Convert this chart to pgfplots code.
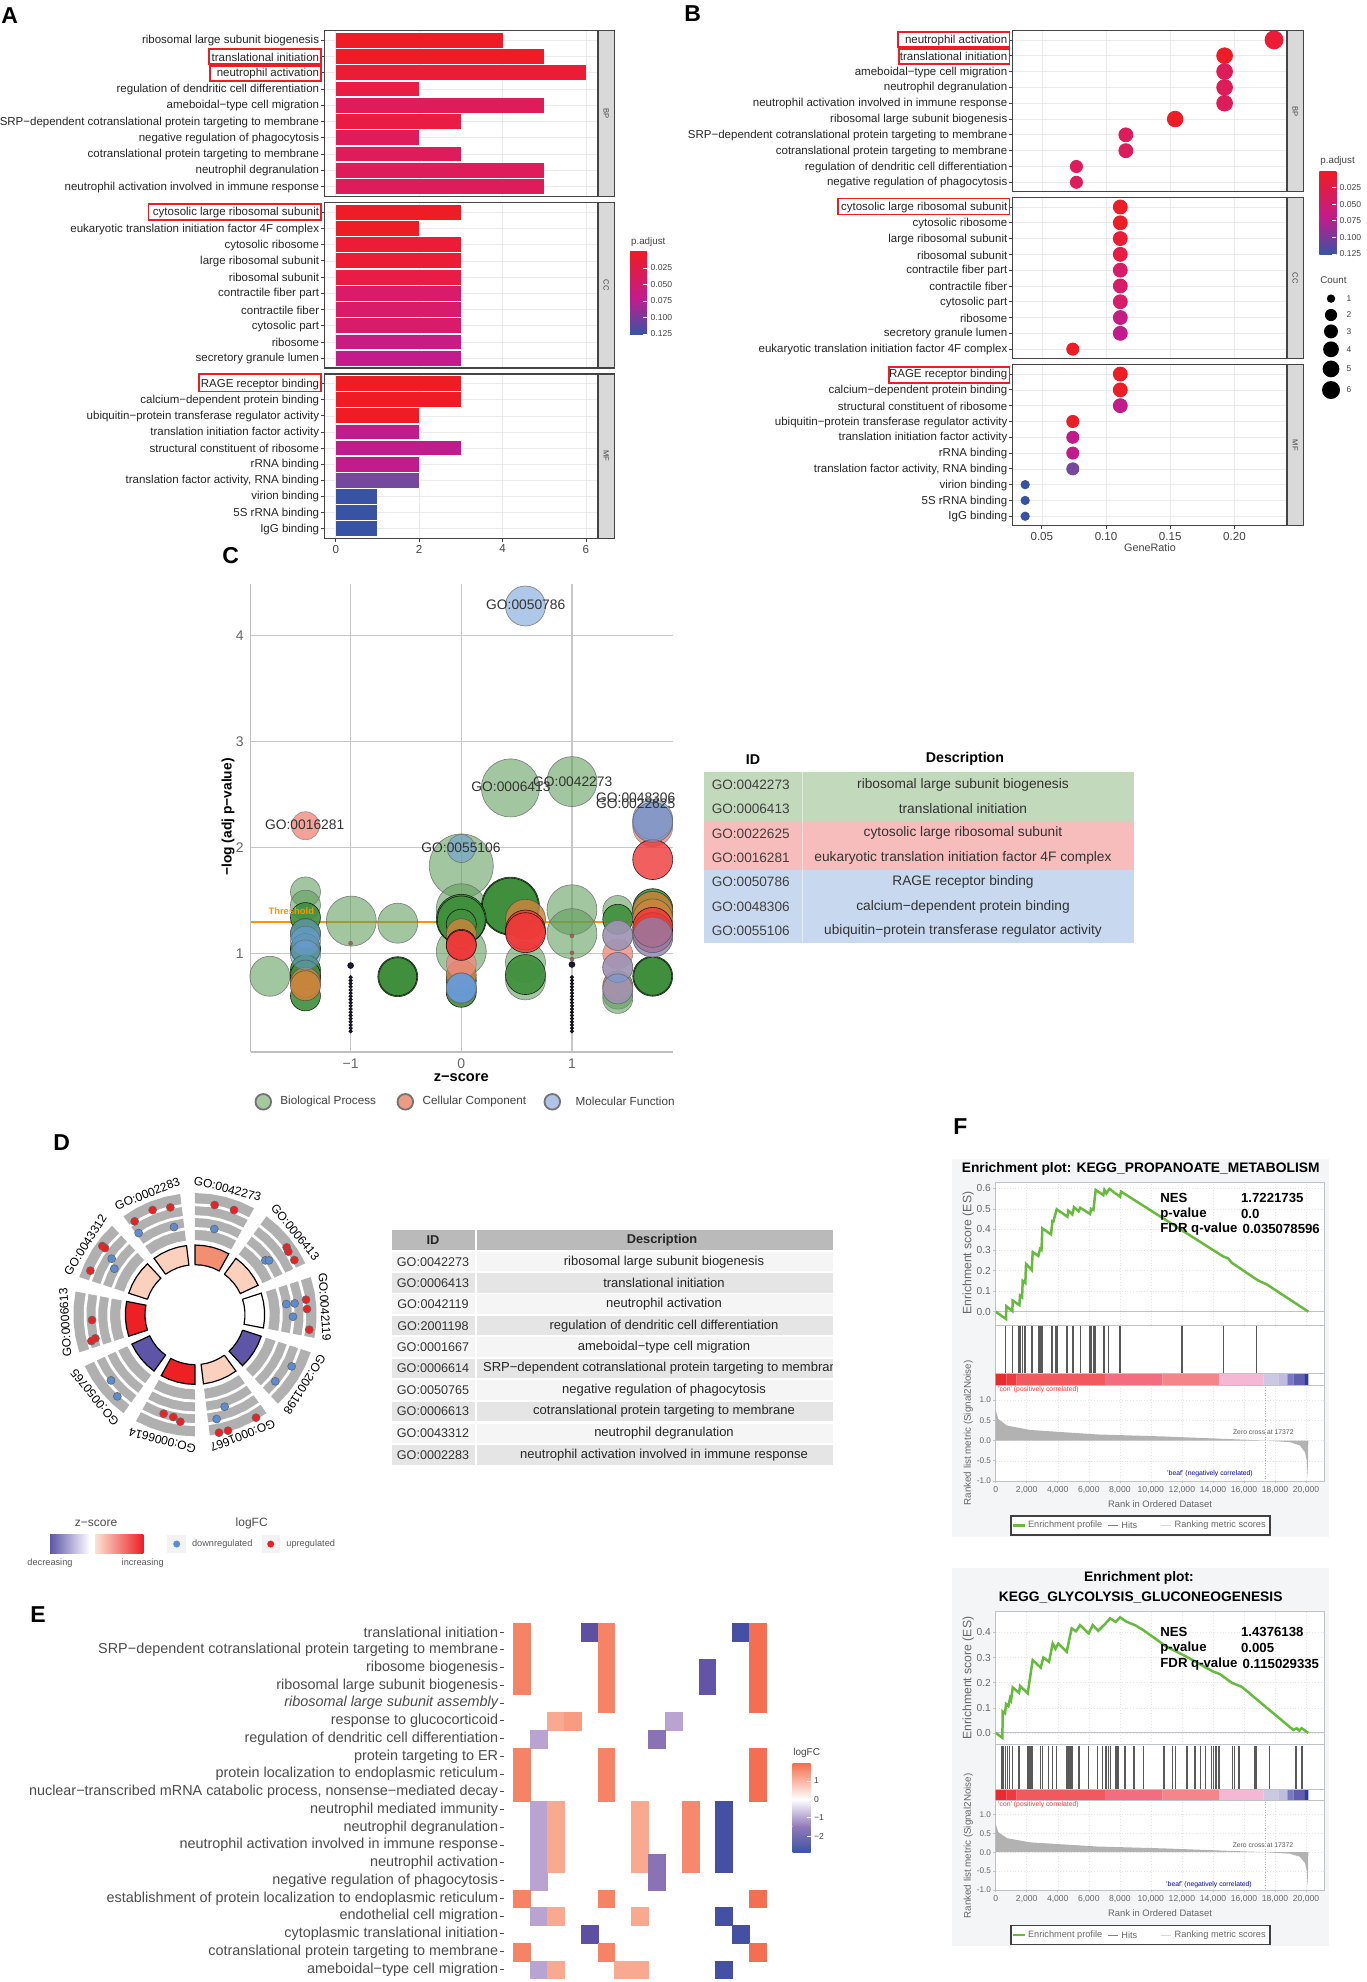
\documentclass[border=0pt]{standalone}
\usepackage{fontspec}
\setmainfont{Liberation Sans}
\usepackage{pgfplots}
\usepackage{pgfplotstable}
\pgfplotsset{compat=1.18}

% all positions below are pixels of the 1366x1982 reference, 1 px = 0.5pt
\newcommand\fs[1]{\fontsize{#1}{#1}\selectfont}
\newcommand\tx[4][]{\node[inner sep=0pt,#1] at ({(#2)*0.5pt},{-(#3)*0.5pt}) {#4};}
\newcommand\rb[4]{\draw[draw=boxred,line width=.8pt] ({#1*0.5pt},{-#2*0.5pt}) rectangle ({#3*0.5pt},{-#4*0.5pt});}
\newcommand\rc[5]{\fill[fill=#5] ({(#1)*0.5pt},{-(#2)*0.5pt}) rectangle ({(#3)*0.5pt},{-(#4)*0.5pt});}
\newcommand\strip[5]{\draw[fill=stripc,draw=c333,line width=.6pt] ({#1*0.5pt},{-#3*0.5pt}) rectangle ({#2*0.5pt},{-#4*0.5pt});
  \tx[rotate=-90,font=\fs{3.8},text=c333]{(#1+#2)/2}{(#3+#4)/2}{#5}}

\definecolor{c333}{HTML}{444444}
\definecolor{stripc}{HTML}{D9D9D9}
\definecolor{gridc}{HTML}{EBEBEB}
\definecolor{boxred}{HTML}{EE1C25}
\definecolor{pa}{HTML}{EE1C25}
\definecolor{pb}{HTML}{EC1C36}
\definecolor{pc}{HTML}{E81C45}
\definecolor{pd}{HTML}{DE1C5C}
\definecolor{pe}{HTML}{D91C6A}
\definecolor{pf}{HTML}{C71C84}
\definecolor{pg}{HTML}{C21C8C}
\definecolor{ph}{HTML}{75489E}
\definecolor{pi}{HTML}{3953A4}
\definecolor{gsgreen}{HTML}{66BB3C}
\definecolor{gsline}{HTML}{BFC3C7}
\definecolor{gsbg}{HTML}{F3F5F7}
\definecolor{gstxt}{HTML}{666666}
\definecolor{dred}{HTML}{ED2024}
\definecolor{dblue}{HTML}{5B8BD0}
\definecolor{dgray}{HTML}{B0B0B0}
\definecolor{dsalm}{HTML}{F28F70}
\definecolor{dpale}{HTML}{FBD0BC}
\definecolor{dpurp}{HTML}{5E55A6}
\definecolor{cgo}{HTML}{5F9E5A}
\definecolor{cgd}{HTML}{3F8F3C}
\definecolor{cbr}{HTML}{C9853A}
\definecolor{csa}{HTML}{F08A80}
\definecolor{cre}{HTML}{EE3838}
\definecolor{cbl}{HTML}{6A9BD8}
\definecolor{csm}{HTML}{1A1A3A}
\definecolor{ctin}{HTML}{8A5A4A}

\pgfplotsset{
  /pgf/number format/assume math mode=true,
  pan/.style n args={4}{scale only axis,anchor=north west,
    at={({#1*0.5pt},{-#2*0.5pt})},width={(#3-#1)*0.5pt},height={(#4-#2)*0.5pt}},
  facet/.style={grid=major,grid style={draw=gridc,line width=.35pt},
    axis line style={draw=c333,line width=.6pt},y dir=reverse,ymin=.4,ymax=10.6,
    ytick={1,...,10},tick style={draw=c333,line width=.4pt},major tick length=1.7pt,
    tick align=outside,xtick pos=left,ytick pos=left,
    yticklabel style={font=\fs{5.75},text=black!85,inner sep=.8pt,yshift=-.3pt},
    xticklabel style={font=\fs{5.8},text=c333,inner sep=1.5pt}},
  nox/.style={xticklabels={},xtick style={draw=none}},
  cbar/.style={hide x axis,axis y line=right,axis line style={draw=none},xmin=0,xmax=1,
    tick style={draw=white,line width=.4pt},major tick length=2pt,tick align=inside,axis on top,
    yticklabel style={font=\fs{4.3},text=c333,inner sep=1.5pt}},
  bub/.style n args={3}{scatter,only marks,mark=*,point meta=\thisrow{r},
    visualization depends on={\thisrow{r}\as\rr},
    scatter/@pre marker code/.code={\scope[mark size={\rr*0.5},draw=#3,fill=#1,fill opacity=#2,draw opacity=.8,line width=.3pt]},
    scatter/@post marker code/.code={\endscope}},
  gs/.style={xmin=0,xmax=21160,axis line style={draw=gsline,line width=.5pt},
    axis background/.style={fill=white},xtick={0,2000,...,20000},grid=major,
    grid style={densely dotted,draw=black!10,line width=.25pt},
    tick style={draw=gsline,line width=.3pt},major tick length=1.2pt,tick align=outside,
    xticklabels={},scaled ticks=false,xtick pos=left,ytick pos=left},
  colormap={logfc}{rgb255(0pt)=(59,80,164); rgb255(8pt)=(94,79,162); rgb255(16pt)=(143,120,184);
    rgb255(20pt)=(185,163,208); rgb255(30pt)=(255,255,255); rgb255(40pt)=(248,169,143);
    rgb255(50pt)=(244,105,75)},
}

% panel A bar, panel B dot
\newcommand\hb[3]{\addplot[xbar,bar shift=0pt,bar width=7.4pt,draw=none,fill=#3] coordinates {(#1,#2)};}
\newcommand\dotb[4]{\addplot[only marks,mark=*,mark size=#3pt,color=#4,mark options={draw=none}] coordinates {(#1,#2)};}

% panel C
\pgfplotstableread[row sep=\\]{z y r\\
.444 2.564 29\\ 1 2.624 25\\ 0 1.829 32\\ 0 1.426 25\\ -.994 1.309 25\\ -.574 1.289 20\\ -1.73 .789 20\\
1 1.416 25\\ 1 1.191 25\\ 0 1.023 25\\ -1.408 1.584 15\\ -1.408 1.46 15\\ -1.408 1.04 15\\ 1.414 1.409 15\\
.58 .92 20\\ .58 .755 20\\ 1.414 .62 15\\ 1.414 .58 15\\}\tabGo
\pgfplotstableread[row sep=\\]{z y r\\
.444 1.45 29\\ .444 1.45 28\\ 0 1.326 25\\ 0 1.32 24\\ -.574 .785 20\\ -.574 .785 19\\ .58 .805 20\\ 1.73 .789 20\\ 1.73 .789 19\\
1.73 1.426 20\\ 1.73 1.40 20\\ 1.414 1.326 15\\ -1.408 .772 15\\ -1.408 .604 15\\ -1.408 1.342 15\\ -1.408 1.19 15\\ -1.408 1.05 15\\
-1.408 .85 15\\ -1.408 .80 15\\ 0 .638 15\\ 0 1.28 15\\ 0 .75 15\\}\tabGd
\pgfplotstableread[row sep=\\]{z y r\\
-1.408 .732 15\\ -1.408 .70 15\\ 0 1.19 15\\ 0 .80 15\\ .58 1.326 20\\ 1.73 1.40 20\\ 1.73 1.33 20\\ 1.414 .70 15\\}\tabBr
\pgfplotstableread[row sep=\\]{z y r\\
-1.408 2.208 14\\ 0 .906 15\\ 1.414 1.0 15\\ 1.414 1.174 15\\ 1.414 .872 15\\ 1.414 .67 15\\ 1.73 2.2 20\\ 1.73 2.24 20\\ 1.73 1.158 20\\}\tabSa
\pgfplotstableread[row sep=\\]{z y r\\
1.73 1.889 20\\ .58 1.225 20\\ .58 1.20 20\\ 0 1.09 15\\ 0 1.08 15\\ 1.73 1.2 20\\ 1.73 1.25 20\\}\tabRe
\pgfplotstableread[row sep=\\]{z y r\\
.58 4.279 20\\ 1.73 2.265 20\\ 0 1.993 14\\ -1.408 1.19 15\\ -1.408 1.12 15\\ -1.408 .99 15\\
1.414 1.174 15\\ 1.414 .872 15\\ 1.414 .67 15\\ 1.73 1.158 20\\ 1.73 2.24 20\\ 0 .678 15\\ 0 .678 15\\ 0 .678 15\\ 0 .678 15\\}\tabBl
\pgfplotstableread[row sep=\\]{z y r\\
-1 .89 3\\ -1 .78 1.8\\ -1 .75 1.8\\ -1 .72 1.8\\ -1 .69 1.8\\ -1 .66 1.8\\ -1 .63 1.8\\ -1 .60 1.8\\ -1 .57 1.8\\ -1 .54 1.8\\
-1 .51 1.8\\ -1 .48 1.8\\ -1 .45 1.8\\ -1 .42 1.8\\ -1 .39 1.8\\ -1 .36 1.8\\ -1 .33 1.8\\ -1 .30 1.8\\ -1 .27 1.8\\
1 .90 3\\ 1 .78 1.8\\ 1 .75 1.8\\ 1 .72 1.8\\ 1 .69 1.8\\ 1 .66 1.8\\ 1 .63 1.8\\ 1 .60 1.8\\ 1 .57 1.8\\ 1 .54 1.8\\
1 .51 1.8\\ 1 .48 1.8\\ 1 .45 1.8\\ 1 .42 1.8\\ 1 .39 1.8\\ 1 .36 1.8\\ 1 .33 1.8\\ 1 .30 1.8\\ 1 .27 1.8\\}\tabSm
\pgfplotstableread[row sep=\\]{z y r\\
-1 1.1 2\\ 1 1.17 2\\ 1 .95 2\\ 1 1.01 2\\}\tabTi

% panel D
\newcommand\sect[5]{\addplot[data cs=polar,fill=#4,draw=#5,line width=.6pt] coordinates {
  (#1,#2)(#1-7.25,#2)(#1-14.5,#2)(#1-21.75,#2)(#1-29,#2)
  (#1-29,#3)(#1-21.75,#3)(#1-14.5,#3)(#1-7.25,#3)(#1,#3)(#1,#2)};}
\newcommand\arcw[2]{\addplot[data cs=polar,draw=white,line width=1.4pt] coordinates {
  (#1+.5,#2)(#1-7.25,#2)(#1-14.5,#2)(#1-21.75,#2)(#1-29.5,#2)};}
\newcommand\glab[2]{\node[rotate=#1-90,font=\fs{6},inner sep=0pt] at (axis cs:{390*cos(#1)},{390*sin(#1)}) {#2};}

% panel E: column, row (from the top), logFC
\pgfplotstableread[row sep=\\]{c r v\\
0 0 1.6\\ 4 0 -2.2\\ 5 0 1.6\\ 13 0 -2.8\\ 14 0 1.9\\
0 1 1.6\\ 5 1 1.6\\ 14 1 1.9\\
0 2 1.6\\ 5 2 1.6\\ 11 2 -2.1\\ 14 2 1.9\\
0 3 1.6\\ 5 3 1.6\\ 11 3 -2.1\\ 14 3 1.9\\
5 4 1.6\\ 14 4 1.9\\
2 5 1.0\\ 3 5 1.2\\ 9 5 -1.0\\
1 6 -1.0\\ 8 6 -1.5\\
0 7 1.6\\ 5 7 1.6\\ 14 7 1.9\\
0 8 1.6\\ 5 8 1.6\\ 14 8 1.9\\
0 9 1.6\\ 5 9 1.6\\ 14 9 1.9\\
1 10 -1.0\\ 2 10 1.0\\ 7 10 1.0\\ 10 10 1.5\\ 12 10 -2.8\\
1 11 -1.0\\ 2 11 1.0\\ 7 11 1.0\\ 10 11 1.5\\ 12 11 -2.8\\
1 12 -1.0\\ 2 12 1.0\\ 7 12 1.0\\ 10 12 1.5\\ 12 12 -2.8\\
1 13 -1.0\\ 2 13 1.0\\ 7 13 1.0\\ 8 13 -1.5\\ 10 13 1.5\\ 12 13 -2.8\\
1 14 -1.0\\ 8 14 -1.5\\
0 15 1.6\\ 5 15 1.6\\ 14 15 1.9\\
1 16 -1.0\\ 2 16 1.0\\ 7 16 1.0\\ 12 16 -2.8\\
4 17 -2.2\\ 13 17 -2.8\\
0 18 1.6\\ 5 18 1.6\\ 14 18 1.9\\
1 19 -1.0\\ 2 19 1.0\\ 6 19 1.0\\ 7 19 1.0\\ 12 19 -2.8\\}\tabE

% panel F
\pgfplotstableread[row sep=\\]{k m\\
0 0\\ 0 .75\\ 170 .53\\ 720 .37\\ 2220 .26\\ 6520 .15\\ 10820 .10\\ 17372 0\\ 18960 -.04\\ 19600 -.12\\
19940 -.29\\ 20050 -.5\\ 20110 -.9\\ 20148 0\\ 0 0\\}\tabM
\pgfplotstableread[row sep=\\]{k es\\
0 0\\ 666 -.036\\ 690 .026\\ 1074 .003\\ 1095 .054\\ 1525 .032\\ 1568 .078\\ 1700 .07\\ 1740 .15\\ 1910 .14\\
1955 .232\\ 2320 .203\\ 2384 .29\\ 2750 .271\\ 2857 .305\\ 2950 .30\\ 3007 .405\\ 3566 .376\\ 3650 .44\\ 3716 .438\\
3931 .498\\ 4618 .462\\ 4683 .491\\ 4940 .473\\ 5048 .508\\ 5350 .488\\ 5450 .505\\ 6079 .475\\ 6150 .50\\ 6300 .495\\
6444 .592\\ 6938 .567\\ 7003 .592\\ 7130 .575\\ 7325 .597\\ 8012 .559\\ 8076 .584\\ 14671 .268\\ 14993 .259\\
15208 .238\\ 16926 .151\\ 17463 .133\\ 20148 0\\}\tabEsA
\pgfplotstableread[row sep=\\]{k es\\
0 0\\ 430 -.019\\ 451 .085\\ 601 .078\\ 666 .115\\ 816 .107\\ 924 .138\\ 990 .13\\ 1095 .181\\ 1504 .16\\ 1568 .187\\
2062 .158\\ 2384 .29\\ 2900 .26\\ 3072 .30\\ 3437 .283\\ 3673 .356\\ 3850 .335\\ 4038 .356\\ 4575 .323\\ 4897 .416\\
5177 .405\\ 5434 .429\\ 5993 .396\\ 6251 .429\\ 6616 .407\\ 7088 .436\\ 7368 .456\\ 7733 .442\\ 8012 .46\\ 8442 .442\\
8979 .429\\ 9408 .413\\ 9516 .409\\ 11019 .343\\ 12308 .303\\ 14027 .244\\ 14456 .234\\ 15208 .2\\ 15852 .184\\
19182 .012\\ 19396 .019\\ 19568 .009\\ 19718 .019\\ 20148 0\\}\tabEsB
\newcommand\seg[3]{\addplot[fill=#3,draw=none] coordinates {(#1,-.245)(#2,-.245)(#2,0)(#1,0)(#1,-.245)};}
\definecolor{r1}{HTML}{E92A2E}\definecolor{r2}{HTML}{EE3A3E}\definecolor{r3}{HTML}{F05A5E}
\definecolor{r4}{HTML}{F26D80}\definecolor{r5}{HTML}{F4858A}\definecolor{r6}{HTML}{F4B8D4}
\definecolor{b1}{HTML}{CCC8E4}\definecolor{b2}{HTML}{C0BCE0}\definecolor{b3}{HTML}{7A78C0}
\definecolor{b4}{HTML}{5F5FB0}\definecolor{b5}{HTML}{2E3AA0}
\newcommand\ramp{%
  \seg{0}{700}{r1}\seg{700}{1353}{r2}\seg{1353}{7045}{r3}\seg{7045}{10740}{r4}
  \seg{10740}{14413}{r5}\seg{14413}{17248}{r6}\seg{17248}{18215}{b1}\seg{18215}{18795}{b2}
  \seg{18795}{19182}{b3}\seg{19182}{19933}{b4}\seg{19933}{20148}{b5}}
\newcommand\gsfoot[4]{% y of the legend box, its bottom, y of ticks text, y of axis title
  \tx[font=\fs{4.7},text=gstxt]{1160}{#4}{Rank in Ordered Dataset}
  \draw[draw=black!75,line width=.6pt,fill=white] ({1011*0.5pt},{-#1*0.5pt}) rectangle ({1270*0.5pt},{-#2*0.5pt});
  \draw[gsgreen,line width=1.2pt] ({1013.3*0.5pt},{-(#1+#2)/2*0.5pt}) -- ({1025*0.5pt},{-(#1+#2)/2*0.5pt});
  \draw[gray,line width=.5pt] ({1108.3*0.5pt},{-(#1+#2)/2*0.5pt}) -- ({1118.3*0.5pt},{-(#1+#2)/2*0.5pt});
  \draw[black!15,line width=.5pt] ({1160.7*0.5pt},{-(#1+#2)/2*0.5pt}) -- ({1170.7*0.5pt},{-(#1+#2)/2*0.5pt});
  \tx[anchor=west,font=\fs{4.6},text=gstxt]{1027.7}{(#1+#2)/2}{Enrichment profile}
  \tx[anchor=west,font=\fs{4.6},text=gstxt]{1121}{(#1+#2)/2}{Hits}
  \tx[anchor=west,font=\fs{4.6},text=gstxt]{1174.3}{(#1+#2)/2}{Ranking metric scores}}
\newcommand\gsstat[6]{% y1 y2 y3 and the three values
  \tx[anchor=west,font=\bfseries\fs{6.6}]{1160}{#1}{NES}
  \tx[anchor=west,font=\bfseries\fs{6.6}]{1160}{#2}{p-value}
  \tx[anchor=west,font=\bfseries\fs{6.6}]{1160}{#3}{FDR q-value}
  \tx[anchor=west,font=\bfseries\fs{6.6}]{1240.7}{#1}{#4}
  \tx[anchor=west,font=\bfseries\fs{6.6}]{1240.7}{#2}{#5}
  \tx[anchor=west,font=\bfseries\fs{6.6}]{1242.3}{#3}{#6}}

\begin{document}
\begin{tikzpicture}
\path[use as bounding box,fill=white] (0,0) rectangle (683pt,-991pt);

% ---- A ----
\begin{axis}[pan={324.5}{30.4}{598}{196.4},facet,nox,xmin=-.27,xmax=6.29,xtick={0,2,4,6},
  yticklabels={ribosomal large subunit biogenesis,translational initiation,neutrophil activation,regulation of dendritic cell differentiation,ameboidal−type cell migration,SRP−dependent cotranslational protein targeting to membrane,negative regulation of phagocytosis,cotranslational protein targeting to membrane,neutrophil degranulation,neutrophil activation involved in immune response}]
\hb{4}{1}{pa}\hb{5}{2}{pa}\hb{6}{3}{pb}\hb{2}{4}{pc}\hb{5}{5}{pd}\hb{3}{6}{pc}\hb{2}{7}{pd}\hb{3}{8}{pd}\hb{5}{9}{pd}\hb{5}{10}{pd}
\end{axis}
\begin{axis}[pan={324.5}{202.5}{598}{367.9},facet,nox,xmin=-.27,xmax=6.29,xtick={0,2,4,6},
  yticklabels={cytosolic large ribosomal subunit,eukaryotic translation initiation factor 4F complex,cytosolic ribosome,large ribosomal subunit,ribosomal subunit,contractile fiber part,contractile fiber,cytosolic part,ribosome,secretory granule lumen}]
\hb{3}{1}{pa}\hb{2}{2}{pa}\hb{3}{3}{pb}\hb{3}{4}{pb}\hb{3}{5}{pc}\hb{3}{6}{pe}\hb{3}{7}{pe}\hb{3}{8}{pe}\hb{3}{9}{pf}\hb{3}{10}{pg}
\end{axis}
\begin{axis}[pan={324.5}{374}{598}{538.2},facet,xmin=-.27,xmax=6.29,xtick={0,2,4,6},xticklabels={0,2,4,6},
  yticklabels={RAGE receptor binding,calcium−dependent protein binding,ubiquitin−protein transferase regulator activity,translation initiation factor activity,structural constituent of ribosome,rRNA binding,{translation factor activity, RNA binding},virion binding,5S rRNA binding,IgG binding}]
\hb{3}{1}{pa}\hb{3}{2}{pa}\hb{2}{3}{pa}\hb{2}{4}{pg}\hb{3}{5}{pg}\hb{2}{6}{pg}\hb{2}{7}{ph}\hb{1}{8}{pi}\hb{1}{9}{pi}\hb{1}{10}{pi}
\end{axis}
\strip{598}{614.5}{30.4}{196.4}{BP}
\strip{598}{614.5}{202.5}{367.9}{CC}
\strip{598}{614.5}{374}{538.2}{MF}
\rb{209}{49}{321}{64}\rb{210}{66}{321}{81}\rb{148.5}{204}{321}{220}\rb{199}{374}{321}{391.4}
\tx[anchor=west,font=\fs{4.9},text=c333]{630.7}{241.8}{p.adjust}
\begin{axis}[pan={630.2}{251.8}{647.2}{334.3},cbar,y dir=reverse,ymin=.0006,ymax=.1255,
  ytick={.025,.05,.075,.1,.125},yticklabels={0.025,0.050,0.075,0.100,0.125}]
\shade[top color=pa,bottom color=pg] (axis cs:0,.0006) rectangle (axis cs:1,.07);
\shade[top color=pg,bottom color=pi] (axis cs:0,.07) rectangle (axis cs:1,.1255);
\end{axis}

% ---- B ----
\begin{axis}[pan={1012.7}{30.4}{1287}{191.8},facet,nox,xmin=.0273,xmax=.2409,xtick={.05,.1,.15,.2},
  yticklabels={neutrophil activation,translational initiation,ameboidal−type cell migration,neutrophil degranulation,neutrophil activation involved in immune response,ribosomal large subunit biogenesis,SRP−dependent cotranslational protein targeting to membrane,cotranslational protein targeting to membrane,regulation of dendritic cell differentiation,negative regulation of phagocytosis}]
\dotb{.2308}{1}{4.5}{pb}\dotb{.1923}{2}{3.95}{pa}\dotb{.1923}{3}{3.95}{pd}\dotb{.1923}{4}{3.95}{pd}\dotb{.1923}{5}{3.95}{pd}
\dotb{.1538}{6}{3.9}{pa}\dotb{.1154}{7}{3.5}{pd}\dotb{.1154}{8}{3.5}{pd}\dotb{.0769}{9}{3.05}{pd}\dotb{.0769}{10}{3.05}{pd}
\end{axis}
\begin{axis}[pan={1012.7}{197.5}{1287}{358.6},facet,nox,xmin=.0273,xmax=.2409,xtick={.05,.1,.15,.2},
  yticklabels={cytosolic large ribosomal subunit,cytosolic ribosome,large ribosomal subunit,ribosomal subunit,contractile fiber part,contractile fiber,cytosolic part,ribosome,secretory granule lumen,eukaryotic translation initiation factor 4F complex}]
\dotb{.1111}{1}{3.5}{pa}\dotb{.1111}{2}{3.5}{pa}\dotb{.1111}{3}{3.5}{pb}\dotb{.1111}{4}{3.5}{pc}\dotb{.1111}{5}{3.5}{pe}
\dotb{.1111}{6}{3.5}{pe}\dotb{.1111}{7}{3.5}{pe}\dotb{.1111}{8}{3.5}{pf}\dotb{.1111}{9}{3.5}{pg}\dotb{.0741}{10}{3.05}{pa}
\end{axis}
\begin{axis}[pan={1012.7}{364.6}{1287}{525.7},facet,xmin=.0273,xmax=.2409,xtick={.05,.1,.15,.2},xticklabels={0.05,0.10,0.15,0.20},
  yticklabels={RAGE receptor binding,calcium−dependent protein binding,structural constituent of ribosome,ubiquitin−protein transferase regulator activity,translation initiation factor activity,rRNA binding,{translation factor activity, RNA binding},virion binding,5S rRNA binding,IgG binding}]
\dotb{.1111}{1}{3.5}{pa}\dotb{.1111}{2}{3.5}{pa}\dotb{.1111}{3}{3.5}{pg}\dotb{.0741}{4}{3.05}{pa}\dotb{.0741}{5}{3.05}{pg}
\dotb{.0741}{6}{3.05}{pg}\dotb{.0741}{7}{3.05}{ph}\dotb{.037}{8}{2.1}{pi}\dotb{.037}{9}{2.1}{pi}\dotb{.037}{10}{2.1}{pi}
\end{axis}
\strip{1287}{1303.6}{30.4}{191.8}{BP}
\strip{1287}{1303.6}{197.5}{358.6}{CC}
\strip{1287}{1303.6}{364.6}{525.7}{MF}
\rb{898}{32}{1009.5}{47}\rb{899}{49}{1009.5}{64}\rb{838}{198.5}{1009.5}{214.5}\rb{889}{367}{1009.5}{383}
\tx[font=\fs{5.4},text=c333]{1150}{548}{GeneRatio}
\tx[anchor=west,font=\fs{4.9},text=c333]{1320}{161.4}{p.adjust}
\begin{axis}[pan={1319.3}{171.4}{1336.3}{254.3},cbar,y dir=reverse,ymin=.0006,ymax=.1255,
  ytick={.025,.05,.075,.1,.125},yticklabels={0.025,0.050,0.075,0.100,0.125}]
\shade[top color=pa,bottom color=pg] (axis cs:0,.0006) rectangle (axis cs:1,.07);
\shade[top color=pg,bottom color=pi] (axis cs:0,.07) rectangle (axis cs:1,.1255);
\end{axis}
\tx[anchor=west,font=\fs{4.9},text=c333]{1320}{280}{Count}
\foreach \yy/\sz/\cc in {298.6/2.1/1,315/3.05/2,331.4/3.5/3,349.3/3.95/4,368.9/4.2/5,390/4.5/6}{
  \fill[black] ({1331*0.5pt},{-\yy*0.5pt}) circle (\sz pt);
  \tx[font=\fs{4.2},text=c333]{1349}{\yy}{\cc}
}

% ---- C ----
\begin{axis}[pan={250.7}{583.6}{673.3}{1052},xmin=-1.903,xmax=1.916,ymin=.075,ymax=4.49,
  axis x line*=bottom,axis y line*=left,axis line style={draw=black!25,line width=.6pt,-},
  xtick={-1,0,1},xticklabels={−1,0,1},ytick={1,2,3,4},yticklabels={1,2,3,4},
  grid=major,grid style={draw=black!22,line width=.6pt},tick style={draw=none},
  ticklabel style={font=\fs{7},text=black!60},clip=true]
\addplot[bub={cgo}{.58}{black!60}] table[x=z,y=y] {\tabGo};
\addplot[bub={cgd}{.9}{black}] table[x=z,y=y] {\tabGd};
\addplot[bub={cbr}{.85}{black!70}] table[x=z,y=y] {\tabBr};
\addplot[bub={csa}{.8}{black!50}] table[x=z,y=y] {\tabSa};
\addplot[bub={cre}{.8}{black}] table[x=z,y=y] {\tabRe};
\addplot[bub={cbl}{.55}{black!60}] table[x=z,y=y] {\tabBl};
\addplot[bub={csm}{1}{black}] table[x=z,y=y] {\tabSm};
\addplot[bub={ctin}{.8}{ctin}] table[x=z,y=y] {\tabTi};
\addplot[no marks,draw=orange!85!yellow,line width=.7pt] coordinates {(-1.903,1.3)(1.916,1.3)};
\end{axis}
\tx[font=\bfseries\fs{4.7},text=orange!85!yellow]{291.3}{911}{Threshold}
\tx[font=\fs{6.9},text=black!80]{525.7}{604.3}{GO:0050786}
\tx[font=\fs{6.9},text=black!80]{511}{787}{GO:0006413}
\tx[font=\fs{6.9},text=black!80]{572.7}{781.5}{GO:0042273}
\tx[font=\fs{6.9},text=black!80]{635.7}{797.5}{GO:0048306}
\tx[font=\fs{6.9},text=black!80]{635.7}{803.5}{GO:0022625}
\tx[font=\fs{6.9},text=black!80]{304.7}{825}{GO:0016281}
\tx[font=\fs{6.9},text=black!80]{461}{847.9}{GO:0055106}
\tx[font=\bfseries\fs{7.3}]{461.3}{1077.9}{z−score}
\tx[rotate=90,font=\bfseries\fs{6.9}]{228}{817}{−log (adj p−value)}
\definecolor{lc1}{HTML}{A5C99F}\definecolor{lc2}{HTML}{EF9A85}\definecolor{lc3}{HTML}{B0C4E8}
\foreach \xx/\ff/\tt/\lx in {263.3/lc1/Biological Process/280,405.3/lc2/Cellular Component/422.3,552.3/lc3/Molecular Function/575.3}{
  \draw[fill=\ff,draw=black!55,line width=.9pt] ({\xx*0.5pt},{-1101.8*0.5pt}) circle (3.9pt);
  \tx[anchor=west,font=\fs{5.85},text=black!75]{\lx}{1101.8}{\tt}
}
% table next to C
\definecolor{tg}{HTML}{C3D9BC}\definecolor{tr}{HTML}{F7BCBC}\definecolor{tb}{HTML}{C8D8EE}
\rc{704}{772.3}{1134}{821.2}{tg}\rc{704}{821.2}{1134}{870}{tr}\rc{704}{870}{1134}{943.3}{tb}
\draw[white,line width=.3pt,opacity=.5] ({802.7*0.5pt},{-772.3*0.5pt}) -- ({802.7*0.5pt},{-943.3*0.5pt});
\tx[font=\bfseries\fs{7.1}]{753}{759.3}{ID}
\tx[font=\bfseries\fs{7.1}]{965}{759.3}{Description}
\foreach \yy/\ii/\dd in {784.5/GO:0042273/ribosomal large subunit biogenesis,808.9/GO:0006413/translational initiation,
  833.4/GO:0022625/cytosolic large ribosomal subunit,857.8/GO:0016281/eukaryotic translation initiation factor 4F complex,
  882.2/GO:0050786/RAGE receptor binding,906.7/GO:0048306/calcium−dependent protein binding,931.1/GO:0055106/ubiquitin−protein transferase regulator activity}{
  \tx[font=\fs{6.8},text=black!75]{750.7}{\yy}{\ii}
  \tx[font=\fs{6.87},text=black!80]{963}{\yy}{\dd}
}

% ---- D ----
\begin{axis}[pan={55}{1174.7}{335}{1454.7},hide axis,clip=false,xmin=-420,xmax=420,ymin=-420,ymax=420]
\pgfplotsinvokeforeach{90,54,18,-18,-54,-90,-126,-162,-198,-234}{
  \sect{#1}{224}{365}{dgray}{none}
  \arcw{#1}{259}\arcw{#1}{294.5}\arcw{#1}{330}
}
\sect{90}{150}{209}{dsalm}{black}\sect{54}{150}{209}{dpale}{black}\sect{18}{150}{209}{white}{black}
\sect{-18}{150}{209}{dpurp}{black}\sect{-54}{150}{209}{dpale}{black}\sect{-90}{150}{209}{dred}{black}
\sect{-126}{150}{209}{dpurp}{black}\sect{-162}{150}{209}{dred}{black}\sect{-198}{150}{209}{dpale}{black}
\sect{-234}{150}{209}{dpale}{black}
\addplot[only marks,mark=*,mark size=2pt,mark options={fill=dblue,draw=black!60,line width=.3pt}] coordinates {
  (58,257)(211,163)(222,163)(274,32)(299,34)(294,-6)(290,-155)(241,-200)(89,-276)(65,-313)
  (-233,-245)(-252,-197)(-242,138)(-250,168)(-169,245)(-63,263)};
\addplot[only marks,mark=*,mark size=2pt,mark options={fill=dred,draw=black!60,line width=.3pt}] coordinates {
  (59,329)(117,314)(275,202)(280,189)(298,164)(333,45)(336,17)(343,-45)(183,-309)(99,-348)(72,-354)
  (-44,-321)(-65,-307)(-94,-297)(-309,-16)(-299,-71)(-311,-79)(-314,132)(-278,206)(-270,200)(-181,280)(-127,314)(-74,322)};
\glab{75.5}{GO:0042273}\glab{39.5}{GO:0006413}\glab{3.5}{GO:0042119}\glab{-32.5}{GO:2001198}\glab{-68.5}{GO:0001667}
\glab{-104.5}{GO:0006614}\glab{-140.5}{GO:0050765}\glab{-176.5}{GO:0006613}\glab{-212.5}{GO:0043312}\glab{-248.5}{GO:0002283}
\end{axis}
\tx[font=\fs{6},text=black!70]{96}{1523.3}{z−score}
\shade[left color=dpurp,right color=white] ({50*0.5pt},{-1534.7*0.5pt}) rectangle ({90*0.5pt},{-1553.3*0.5pt});
\shade[left color=dpale!60,right color=dred] ({95*0.5pt},{-1534.7*0.5pt}) rectangle ({143.3*0.5pt},{-1553.3*0.5pt});
\tx[font=\fs{4.6},text=black!65]{50}{1563.3}{decreasing}
\tx[font=\fs{4.6},text=black!65]{142.7}{1563.3}{increasing}
\tx[font=\fs{6},text=black!70]{251.7}{1523.3}{logFC}
\rc{167.3}{1535}{185.7}{1552.7}{black!5}\rc{261.7}{1535}{280}{1552.7}{black!5}
\fill[dblue] ({176.7*0.5pt},{-1544*0.5pt}) circle (1.75pt);
\fill[dred] ({270.7*0.5pt},{-1544*0.5pt}) circle (1.75pt);
\tx[anchor=west,font=\fs{4.6},text=black!65]{191.7}{1544}{downregulated}
\tx[anchor=west,font=\fs{4.6},text=black!65]{286}{1544}{upregulated}
% table next to D
\rc{392}{1230}{474.5}{1250}{black!27}\rc{476.5}{1230}{832.7}{1250}{black!27}
\foreach \yy/\cc in {1261.7/black!4,1283/black!10,1304/black!4,1325.7/black!10,1347/black!4,1368.3/black!10,1390/black!4,1411.3/black!10,1433.3/black!4,1455/black!10}{
  \rc{392}{\yy-9.7}{474.5}{\yy+9.7}{\cc}\rc{476.5}{\yy-9.7}{832.7}{\yy+9.7}{\cc}
}
\tx[font=\bfseries\fs{6.4},text=black!85]{433}{1240}{ID}
\tx[font=\bfseries\fs{6.4},text=black!85]{662}{1240}{Description}
\foreach \yy/\ii/\dd in {1261.7/GO:0042273/ribosomal large subunit biogenesis,1283/GO:0006413/translational initiation,
  1304/GO:0042119/neutrophil activation,1325.7/GO:2001198/regulation of dendritic cell differentiation,
  1347/GO:0001667/ameboidal−type cell migration,1390/GO:0050765/negative regulation of phagocytosis,
  1411.3/GO:0006613/cotranslational protein targeting to membrane,1433.3/GO:0043312/neutrophil degranulation,
  1455/GO:0002283/neutrophil activation involved in immune response}{
  \tx[font=\fs{6.3},text=black!80]{433}{\yy}{\ii}
  \tx[font=\fs{6.5},text=black!85]{664}{\yy}{\dd}
}
\tx[font=\fs{6.3},text=black!80]{433}{1368.3}{GO:0006614}
\begin{scope}
\clip ({476.5*0.5pt},{-1350*0.5pt}) rectangle ({832.7*0.5pt},{-1380*0.5pt});
\tx[anchor=west,font=\fs{6.5},text=black!85]{482.7}{1368.3}{SRP−dependent cotranslational protein targeting to membrane}
\end{scope}

% ---- E ----
\begin{axis}[pan={504.5}{1623.3}{775}{1978.3},xmin=-1.03,xmax=15.03,ymin=-.5,ymax=19.5,y dir=reverse,
  hide x axis,axis y line*=left,axis line style={draw=none},
  ytick={0,...,19},tick style={draw=black!70,line width=.5pt},major tick length=2pt,tick align=outside,
  yticklabel style={font=\fs{7.2},text=black!70,inner sep=1pt},
  yticklabels={translational initiation,SRP−dependent cotranslational protein targeting to membrane,ribosome biogenesis,ribosomal large subunit biogenesis,{\itshape ribosomal large subunit assembly},response to glucocorticoid,regulation of dendritic cell differentiation,protein targeting to ER,protein localization to endoplasmic reticulum,{nuclear−transcribed mRNA catabolic process, nonsense−mediated decay},neutrophil mediated immunity,neutrophil degranulation,neutrophil activation involved in immune response,neutrophil activation,negative regulation of phagocytosis,establishment of protein localization to endoplasmic reticulum,endothelial cell migration,cytoplasmic translational initiation,cotranslational protein targeting to membrane,ameboidal−type cell migration},
  colormap name=logfc,point meta min=-3,point meta max=2]
\addplot[scatter,only marks,mark=square*,mark size=4.21pt,mark options={yscale=1.053},point meta=\thisrow{v},
  scatter/use mapped color={draw=mapped color,fill=mapped color,line width=.05pt}] table[x=c,y=r] {\tabE};
\end{axis}
\tx[anchor=west,font=\fs{5},text=c333]{793}{1753}{logFC}
\definecolor{ecm}{HTML}{8F7AB9}\definecolor{ect}{HTML}{F47050}
\begin{axis}[pan={792.7}{1763.7}{810.7}{1852.7},cbar,ymin=-2.91,ymax=1.94,ytick={-2,-1,0,1},yticklabels={−2,−1,0,1}]
\shade[top color=white,bottom color=ecm] (axis cs:0,0) rectangle (axis cs:1,-1.5);
\shade[top color=ecm,bottom color=pi] (axis cs:0,-1.5) rectangle (axis cs:1,-2.91);
\shade[top color=ect,bottom color=white] (axis cs:0,1.94) rectangle (axis cs:1,0);
\end{axis}

% ---- F, upper ----
\rc{952}{1159.3}{1329.3}{1536.7}{gsbg}
\tx[font=\bfseries\fs{6.9}]{1140.7}{1168.7}{Enrichment plot: KEGG\_PROPANOATE\_METABOLISM}
\begin{axis}[pan={995.7}{1182.3}{1324}{1325},gs,ymin=-.065,ymax=.629,ytick={0,.1,.2,.3,.4,.5,.6},
  yticklabels={0.0,0.1,0.2,0.3,0.4,0.5,0.6},yticklabel style={font=\fs{5.1},text=gstxt,inner sep=1pt}]
\addplot[no marks,draw=gsline,line width=.5pt] coordinates {(0,0)(21160,0)};
\addplot[no marks,draw=gsgreen,line width=1.25pt] table[x=k,y=es] {\tabEsA};
\end{axis}
\begin{axis}[pan={995.7}{1325}{1324}{1385},gs,ymin=-.245,ymax=1.03,ytick=\empty,grid=none,xtick=\empty]
\ramp
\addplot[ycomb,no marks,draw=black!65,line width=.55pt] coordinates {(623,1)(1074,1)(1504,1)(1590,1)(1718,1)(1847,1)(1933,1)(2298,1)(2384,1)(2749,1)(2857,1)(2943,1)(3029,1)(3630,1)(3673,1)(3888,1)(3952,1)(4597,1)(4983,1)(5456,1)(6079,1)(6143,1)(6294,1)(6380,1)(6444,1)(6981,1)(7260,1)(8012,1)(12007,1)(14692,1)(16819,1)};
\addplot[no marks,draw=gsline,line width=.4pt] coordinates {(0,0)(21160,0)};
\end{axis}
\begin{axis}[pan={995.7}{1385}{1324}{1481},gs,ymin=-1,ymax=1.37,ytick={-1,-.5,0,.5,1},yticklabels={-1.0,-0.5,0.0,0.5,1.0},
  yticklabel style={font=\fs{4.1},text=gstxt,inner sep=1pt},
  xticklabels={0,{2,000},{4,000},{6,000},{8,000},{10,000},{12,000},{14,000},{16,000},{18,000},{20,000}},
  xticklabel style={font=\fs{4.3},text=gstxt,inner sep=1.2pt}]
\addplot[fill=black!30,draw=none] table[x=k,y=m] {\tabM};
\addplot[no marks,densely dotted,draw=black!30,line width=.3pt] coordinates {(17372,-.95)(17372,1.37)};
\end{axis}
\tx[anchor=west,font=\fs{3.4},text=red!80]{997.7}{1390}{'con' (positively correlated)}
\tx[font=\fs{3.4},text=blue!70!black]{1210}{1474}{'beaf' (negatively correlated)}
\tx[font=\fs{3.4},text=black!65]{1263.3}{1432}{Zero cross at 17372}
\tx[rotate=90,font=\fs{6.1},text=gstxt]{968.3}{1253}{Enrichment score (ES)}
\tx[rotate=90,font=\fs{4.9},text=gstxt]{968.3}{1433}{Ranked list metric (Signal2Noise)}
\gsstat{1198}{1214}{1229.3}{1.7221735}{0.0}{0.035078596}
\gsfoot{1516}{1535}{1490}{1503.7}

% ---- F, lower ----
\rc{952}{1568.3}{1329.3}{1945.7}{gsbg}
\tx[font=\bfseries\fs{6.9}]{1139}{1578.3}{Enrichment plot:}
\tx[font=\bfseries\fs{6.9}]{1140.7}{1597.3}{KEGG\_GLYCOLYSIS\_GLUCONEOGENESIS}
\begin{axis}[pan={995.7}{1611}{1324}{1744.3},gs,ymin=-.045,ymax=.485,ytick={0,.1,.2,.3,.4},
  yticklabels={0.0,0.1,0.2,0.3,0.4},yticklabel style={font=\fs{5.1},text=gstxt,inner sep=1pt}]
\addplot[no marks,draw=gsline,line width=.5pt] coordinates {(0,0)(21160,0)};
\addplot[no marks,draw=gsgreen,line width=1.25pt] table[x=k,y=es] {\tabEsB};
\end{axis}
\begin{axis}[pan={995.7}{1744.3}{1324}{1800.7},gs,ymin=-.245,ymax=1.03,ytick=\empty,grid=none,xtick=\empty]
\ramp
\addplot[ycomb,no marks,draw=black!65,line width=.55pt] coordinates {(365,1)(473,1)(623,1)(752,1)(881,1)(1095,1)(1504,1)(2084,1)(2170,1)(2255,1)(2320,1)(2384,1)(2900,1)(3029,1)(3415,1)(3652,1)(3931,1)(4597,1)(4661,1)(4747,1)(4833,1)(4919,1)(5327,1)(5413,1)(5993,1)(6573,1)(6895,1)(7110,1)(7260,1)(7389,1)(7754,1)(7883,1)(8334,1)(8914,1)(9516,1)(10847,1)(11384,1)(11599,1)(12330,1)(12845,1)(13189,1)(13532,1)(13919,1)(14048,1)(14198,1)(14392,1)(15272,1)(15401,1)(15680,1)(16711,1)(16819,1)(17635,1)(19332,1)(19396,1)(19740,1)};
\addplot[no marks,draw=gsline,line width=.4pt] coordinates {(0,0)(21160,0)};
\end{axis}
\begin{axis}[pan={995.7}{1800.7}{1324}{1890},gs,ymin=-1,ymax=1.36,ytick={-1,-.5,0,.5,1},yticklabels={-1.0,-0.5,0.0,0.5,1.0},
  yticklabel style={font=\fs{4.1},text=gstxt,inner sep=1pt},
  xticklabels={0,{2,000},{4,000},{6,000},{8,000},{10,000},{12,000},{14,000},{16,000},{18,000},{20,000}},
  xticklabel style={font=\fs{4.3},text=gstxt,inner sep=1.2pt}]
\addplot[fill=black!30,draw=none] table[x=k,y=m] {\tabM};
\addplot[no marks,densely dotted,draw=black!30,line width=.3pt] coordinates {(17372,-.95)(17372,1.36)};
\end{axis}
\tx[anchor=west,font=\fs{3.4},text=red!80]{997.7}{1805}{'con' (positively correlated)}
\tx[font=\fs{3.4},text=blue!70!black]{1209}{1884.3}{'beaf' (negatively correlated)}
\tx[font=\fs{3.4},text=black!65]{1263}{1845}{Zero cross at 17372}
\tx[rotate=90,font=\fs{6.1},text=gstxt]{968.3}{1678}{Enrichment score (ES)}
\tx[rotate=90,font=\fs{4.9},text=gstxt]{968.3}{1846}{Ranked list metric (Signal2Noise)}
\gsstat{1632.3}{1648.3}{1664}{1.4376138}{0.005}{0.115029335}
\gsfoot{1925.7}{1944.3}{1899}{1912.7}

% ---- panel letters ----
\tx[anchor=west,font=\bfseries\fs{11.5}]{1}{15.7}{A}
\tx[anchor=west,font=\bfseries\fs{11.5}]{684}{14}{B}
\tx[anchor=west,font=\bfseries\fs{11.5}]{222}{556}{C}
\tx[anchor=west,font=\bfseries\fs{11.5}]{53}{1143}{D}
\tx[anchor=west,font=\bfseries\fs{11.5}]{30}{1615}{E}
\tx[anchor=west,font=\bfseries\fs{11.5}]{953}{1127}{F}
\end{tikzpicture}
\end{document}
